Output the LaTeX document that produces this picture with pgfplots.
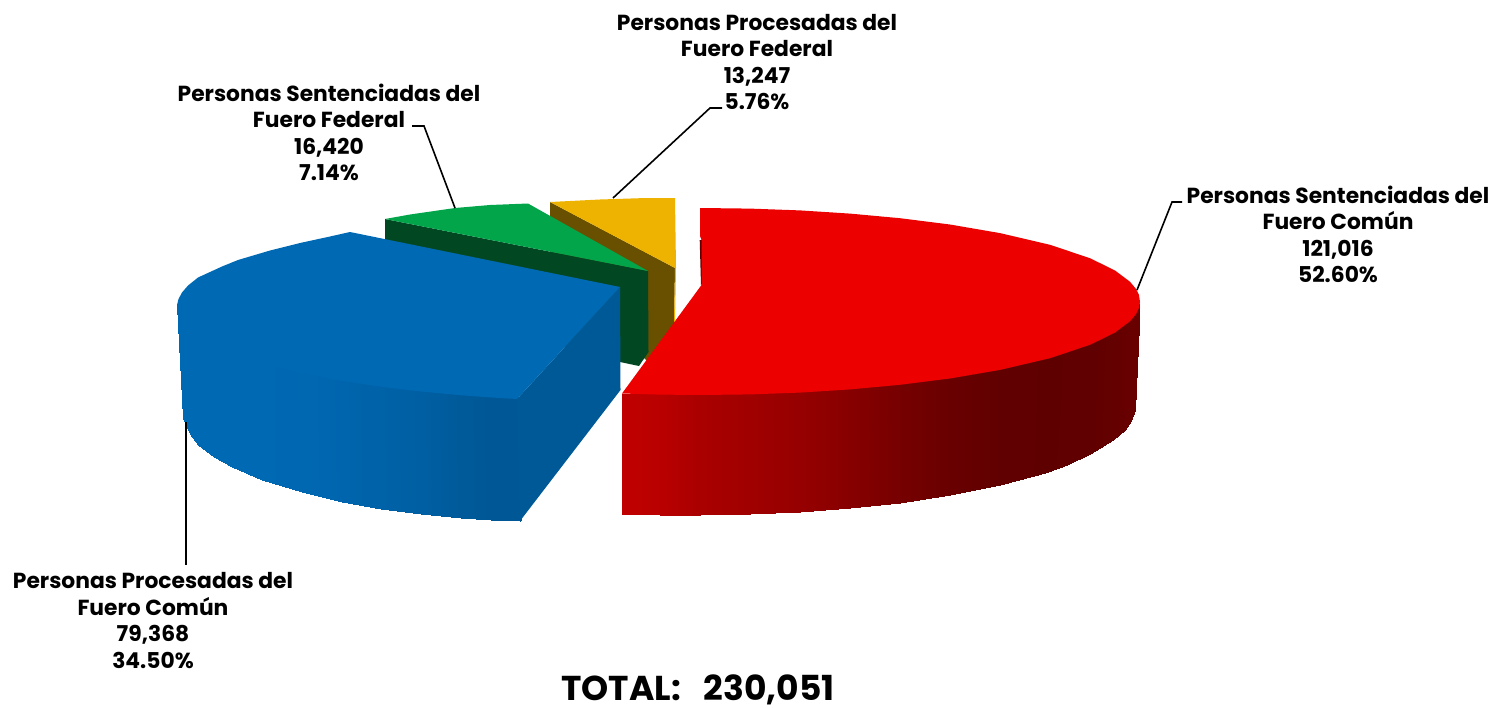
\documentclass[border=0pt]{standalone}
\usepackage{pgfplots}
\usepackage{fontspec}
\setmainfont{Poppins}
\pgfplotsset{compat=1.18}
\definecolor{cred}{RGB}{236,0,0}
\definecolor{cblue}{RGB}{0,105,180}
\definecolor{cblueside}{RGB}{0,89,151}
\definecolor{cgreen}{RGB}{3,165,75}
\definecolor{cgreenside}{RGB}{0,71,34}
\definecolor{cyellow}{RGB}{238,178,0}
\definecolor{cbrown}{RGB}{104,80,0}
\pgfplotsset{
  colormap={redside}{rgb255=(95,0,0) rgb255=(192,0,0)},
  colormap={blueside}{rgb255=(0,86,147) rgb255=(0,105,180)},
}
\tikzset{lab/.style={align=center,font=\fontsize{21.8}{26.4}\selectfont\bfseries,text=black,inner sep=0pt},
  lead/.style={black,line width=1.6pt}}
\begin{document}
\begin{tikzpicture}
\begin{axis}[hide axis,scale only axis,width=1496pt,height=707pt,
  xmin=0,xmax=1496,ymin=0,ymax=707,y dir=reverse,clip=false,
  point meta min=0,point meta max=1]
\path (axis cs:0,0) rectangle (axis cs:1496,707);
% yellow
\addplot[fill=cbrown,draw=none] coordinates {(550,202)(675,268)(674,325)(648,362)(550,262)} -- cycle;
\addplot[fill=cyellow,draw=none] coordinates {(550,202)(600,199.5)(640,198.2)(675,198)(676,268)(675,322)(674,322)(675,268)} -- cycle;
% green
\addplot[fill=cgreenside,draw=none] coordinates {(385,219)(648,271)(648.5,352)(639,366)(620,362)(385,300)} -- cycle;
\addplot[fill=cgreen,draw=none] coordinates {(385,219)(410,214.5)(455,208)(490,205)(528,203.5)(648,271)} -- cycle;
% blue
\addplot[surf,shader=interp,colormap name=blueside,mesh/cols=2,point meta=explicit] table[meta=c] {
x y c
177 305 1
183.3 418 1
180 315 1
187 428 1
185 320 1
192 437 1
190 325 1
198 445 1
215 342 1
214 457 1
232 349 1
232 467 1
262 358 1
262 479.5 1
300 369 .92
302 492 .92
340 376.5 .8
342 502 .8
380 382.6 .62
381 508.5 .62
420 387.4 .48
421 514 .48
460 391 .2
461 518 .2
490 393.4 .05
491 520 .05
517 395 .05
520 521 .05
519 397 .05
521.5 518 .05
};
\addplot[fill=cblueside,draw=none] coordinates {(620,287)(517,399)(520,521)(620.5,390)} -- cycle;
\addplot[fill=cblue,draw=none] coordinates {(620,287)(350,232)(330,236.5)(300,243)(270,250.5)(238,260)(222,266.5)(210,272)(198,277.5)(188,285.5)(182,292.5)(178.5,299)(177,305)(183,323.3)(195,334.4)(215,346)(240,356.1)(270,365.3)(300,372.7)(340,380.5)(380,386.6)(420,391.4)(460,395.2)(490,397.4)(517,399)} -- cycle;
% red
\addplot[surf,shader=interp,colormap name=redside,mesh/cols=2,point meta=explicit] table[meta=c] {
x y c
622 393.5 1
622 514 1
660 390.6 .93
660 514.5 .93
700 391 .77
700 515 .77
750 390.4 .67
750 514.3 .67
800 388.6 .57
800 512.1 .57
850 385.4 .41
850 508.3 .41
900 380.8 .24
900 502.8 .24
950 374.5 .10
950 495.2 .10
1000 365.9 .02
1000 485 .02
1050 354.2 0
1045 472.5 0
1075 345 .01
1067 464.7 .01
1095 337 .02
1090 454.4 .02
1115 328.5 .05
1113 440.4 .05
1127 319 .08
1125 429.5 .08
1133 312 .09
1131 421 .09
1137 306 .1
1134.5 410 .1
1139.5 303 .1
1135 400 .1
};
\addplot[fill=black!62!red,draw=none] coordinates {(699.7,240)(702.5,240)(702.5,283)(701,285.5)} -- cycle;
\addplot[fill=cred,draw=none] coordinates {(700,208)(750,208.6)(800,210.4)(850,213.6)(900,218.2)(950,224.5)(1000,233.1)(1050,244.8)(1090,258.2)(1115,270.5)(1130,281.7)(1136,289)(1139,295)(1140,302)(1139,307.8)(1136,314)(1130,321.3)(1115,332.5)(1090,344.8)(1050,358.2)(1000,369.9)(950,378.5)(900,384.8)(850,389.4)(800,392.6)(750,394.4)(700,395)(660,394.6)(622,393.5)(701.5,285)(701.5,240)(700,236)} -- cycle;
% leaders
\addplot[lead] coordinates {(1137,290)(1172,202)(1182,202)};
\addplot[lead] coordinates {(186,422)(186,565)};
\addplot[lead] coordinates {(455,208)(424,126)(412,126)};
\addplot[lead] coordinates {(613,198)(710,108)(722,108)};
% labels
\node[lab] at (axis cs:1338,234.5) {Personas Sentenciadas del\\Fuero Común\\121,016\\52.60\%};
\node[lab] at (axis cs:153,620.5) {Personas Procesadas del\\Fuero Común\\79,368\\34.50\%};
\node[lab] at (axis cs:329,132.5) {Personas Sentenciadas del\\Fuero Federal\\16,420\\7.14\%};
\node[lab] at (axis cs:757,62) {Personas Procesadas del\\Fuero Federal\\13,247\\5.76\%};
\node[lab,anchor=base,font=\fontsize{34.5}{40}\selectfont\bfseries] at (axis cs:698,700.5) {TOTAL:\hspace{23pt}230,051};
\end{axis}
\end{tikzpicture}
\end{document}
